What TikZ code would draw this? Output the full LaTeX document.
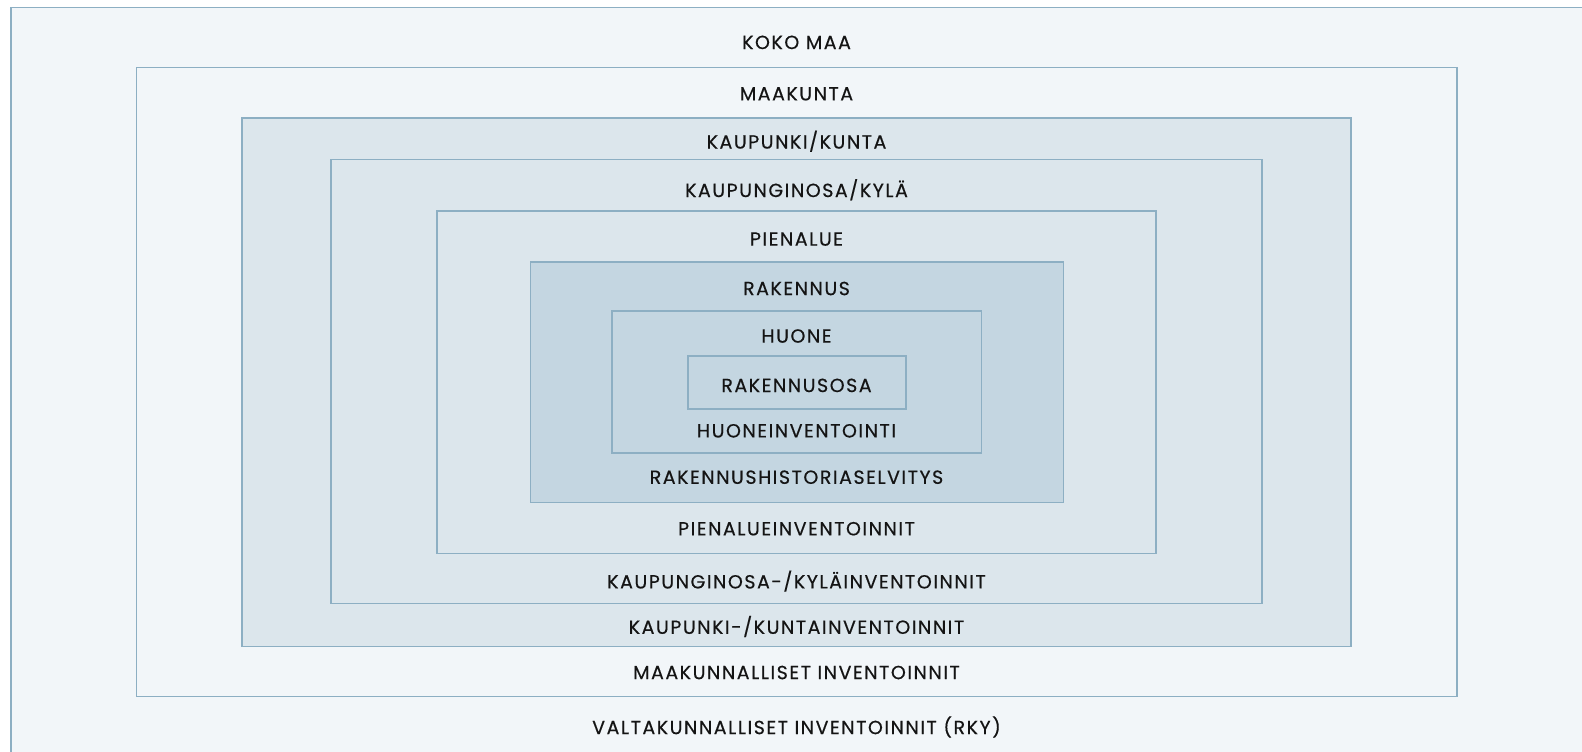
\documentclass[tikz,border=0pt]{standalone}
\usepackage{fontspec}
\newfontfamily\labfont[LetterSpace=8,FakeBold=0.4]{Poppins}
\definecolor{bgA}{HTML}{F2F6F9}
\definecolor{bgB}{HTML}{DCE6EC}
\definecolor{bgC}{HTML}{C4D6E1}
\definecolor{edge}{HTML}{8DAFC3}
\definecolor{ink}{HTML}{141414}
\tikzset{
  lvl/.style={draw=edge, line width=1.6pt},
  lab/.style={text=ink, font=\labfont\fontsize{19}{22}\selectfont, inner sep=0pt, anchor=center},
}
\begin{document}
\begin{tikzpicture}[x=1pt,y=-1pt]
\useasboundingbox (0,0) rectangle (1582,752);
\fill[white] (0,0) rectangle (1582,752);
\begin{scope}
\clip (0,0) rectangle (1582,752);
\draw[lvl, fill=bgA] (10.7,7.5) rectangle (1582.3,770);
\draw[lvl, fill=bgA] (136.3,67.7) rectangle (1456.7,696.3);
\draw[lvl, fill=bgB] (242,117.7) rectangle (1350.7,646.5);
\draw[lvl, fill=bgB] (331,159.4) rectangle (1262,603.3);
\draw[lvl, fill=bgB] (436.8,210.9) rectangle (1156.2,553.3);
\draw[lvl, fill=bgC] (530.3,261.7) rectangle (1063.4,502.3);
\draw[lvl, fill=bgC] (611.7,311) rectangle (981.3,453);
\draw[lvl, fill=bgC] (687.7,355.7) rectangle (905.7,409);
\end{scope}
\node[lab] (t1) at (796.5,42.4) {KOKO MAA};
\node[lab] (t2) at (796.5,93.8) {MAAKUNTA};
\node[lab] (t3) at (796.5,141.2) {KAUPUNKI/KUNTA};
\node[lab] (t4) at (796.5,189.7) {KAUPUNGINOSA/KYLÄ};
\node[lab] (t5) at (796.5,239.1) {PIENALUE};
\node[lab] (t6) at (796.5,288.5) {RAKENNUS};
\node[lab] (t7) at (796.5,336) {HUONE};
\node[lab] (t8) at (796.5,385.4) {RAKENNUSOSA};
\node[lab] (t9) at (796.5,430.8) {HUONEINVENTOINTI};
\node[lab] (t10) at (796.5,477.2) {RAKENNUSHISTORIASELVITYS};
\node[lab] (t11) at (796.5,528.7) {PIENALUEINVENTOINNIT};
\node[lab] (t12) at (796.5,581.1) {KAUPUNGINOSA-/KYLÄINVENTOINNIT};
\node[lab] (t13) at (796.5,626.5) {KAUPUNKI-/KUNTAINVENTOINNIT};
\node[lab] (t14) at (796.5,672.5) {MAAKUNNALLISET INVENTOINNIT};
\node[lab] (t15) at (796.5,727) {VALTAKUNNALLISET INVENTOINNIT (RKY)};
\end{tikzpicture}
\end{document}
